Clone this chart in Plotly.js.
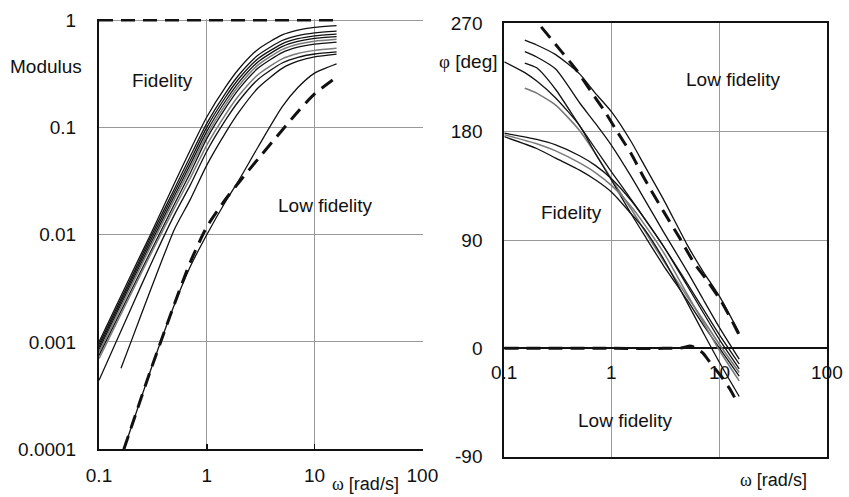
<!DOCTYPE html>
<html>
<head>
<meta charset="utf-8">
<script src="https://cdn.plot.ly/plotly-3.0.1.min.js"></script>
<style>
  html, body { margin: 0; padding: 0; background: #fff; }
  #chart { width: 849px; height: 497px; }
</style>
</head>
<body>
<div id="chart"></div>
<script>
// ---- Modulus (left panel) ----
const wMod = [0.1, 0.2, 0.3, 0.5, 0.7, 1, 1.5, 2, 3, 5, 7, 10, 16];
const wModLate = [0.16, 0.2, 0.3, 0.5, 0.7, 1, 1.5, 2, 3, 5, 7, 10, 16];
const wModLow = [0.17, 0.2, 0.3, 0.5, 0.7, 1, 1.5, 2, 3, 5, 7, 10, 16];
const wModRef = [0.1, 16];

const modA = [0.001, 0.0043, 0.010, 0.030, 0.061, 0.125, 0.24, 0.354, 0.536, 0.728, 0.807, 0.856, 0.888];
const modB = [0.00095, 0.0040, 0.0094, 0.0267, 0.0533, 0.109, 0.21, 0.311, 0.473, 0.645, 0.716, 0.761, 0.79];
const modC = [0.0009, 0.00378, 0.0088, 0.0247, 0.0486, 0.100, 0.193, 0.287, 0.439, 0.601, 0.670, 0.713, 0.741];
const modD = [0.00085, 0.00356, 0.0082, 0.0229, 0.0447, 0.0919, 0.178, 0.266, 0.409, 0.565, 0.632, 0.674, 0.701];
const modE = [0.0008, 0.00334, 0.0077, 0.0213, 0.0412, 0.0848, 0.165, 0.247, 0.382, 0.531, 0.595, 0.635, 0.662];
const modF = [0.00075, 0.00305, 0.0069, 0.0192, 0.0373, 0.0786, 0.153, 0.230, 0.357, 0.498, 0.559, 0.597, 0.623];
const modG = [0.0007, 0.00286, 0.0065, 0.0177, 0.0334, 0.0683, 0.133, 0.200, 0.311, 0.435, 0.488, 0.522, 0.545];
const modH = [0.00044, 0.0021, 0.0052, 0.0153, 0.0288, 0.060, 0.118, 0.178, 0.281, 0.398, 0.450, 0.483, 0.505];
const modI = [0.00057, 0.00103, 0.00303, 0.0112, 0.0211, 0.0445, 0.090, 0.140, 0.234, 0.355, 0.414, 0.454, 0.481];
const modLowSolid = [0.0001, 0.000162, 0.00054, 0.00222, 0.0050, 0.0100, 0.0205, 0.0326, 0.066, 0.155, 0.235, 0.32, 0.39];
const modLowDash = [0.0001, 0.000162, 0.00054, 0.00225, 0.0055, 0.0118, 0.0215, 0.031, 0.051, 0.094, 0.14, 0.205, 0.294];
const modUpperDash = [1, 1];

// ---- Phase (right panel) ----
const wPhA = [0.155, 0.2, 0.3, 0.5, 0.7, 1, 1.5, 2, 3, 5, 7, 10, 15.2];
const wPhB = [0.1, 0.2, 0.3, 0.5, 0.7, 1, 1.5, 2, 3, 5, 7, 10, 15.2];
const wPhC = [0.1, 0.155, 0.2, 0.3, 0.5, 0.7, 1, 1.5, 2, 3, 5, 7, 10, 15.2];
const wPhUpperDash = [0.22, 0.34, 0.47, 0.625, 0.86, 1.1, 1.5, 2, 3, 4.27, 5.7, 7.8, 10.4, 13.9, 15.2];
const wPhLowerDash = [0.1, 1, 3, 4.5, 5.3, 6.0, 7, 8.1, 10.4, 12.5, 14.5];

const phS1 = [256, 252, 244, 228, 212, 196, 172, 152, 124, 86, 64, 43, 13];
const phS2 = [246.5, 242, 232, 204, 187, 168, 143, 124, 97, 64, 41, 17, -9];
const phS3 = [237, 233, 215, 185, 166, 146, 124, 108, 85, 54, 33, 11, -13];
const phS4 = [216, 212, 202, 181, 162, 140, 116, 98, 73, 43, 24, 3, -20];
const phS5 = [238, 229, 222, 208, 185, 162, 139, 112, 94, 69, 40, 20, 0, -23];
const phB1 = [178.7, 173.5, 169, 160, 152, 140.5, 123, 108, 85, 52, 30, 7, -17];
const phB2 = [175.8, 166, 158, 148, 140, 129.5, 112, 99, 74.5, 38, 13.5, -12, -40];
const phB3 = [177.5, 170, 164, 154, 146, 135, 118, 103, 80, 45, 22, -2, -27];
const phUpperDash = [267, 246.5, 231, 214.6, 196.6, 181, 162, 141, 114, 91.4, 72, 55.3, 38.7, 18, 11];
const phLowerDash = [0, 0, 0, 0.5, 2, 0.5, -4, -11.4, -23.6, -34, -44.6];

// tick labels
const modTickVals = [0.0001, 0.001, 0.01, 0.1, 1];
const modTickText = ['0.0001', '0.001', '0.01', '0.1', '1'];
const freqTickVals = [0.1, 1, 10, 100];
const freqTickText = ['0.1', '1', '10', '100'];
const phTickVals = [-90, 0, 90, 180, 270];
const phTickText = ['-90', '0', '90', '180', '270'];

const W = 849, H = 497;
const px = x => x / W;
const py = y => 1 - y / H;

const BLACK = '#111';
const GRAY = '#7a7a7a';
const GRID = '#9a9a9a';
const FONT = 'Liberation Sans, Arial, sans-serif';

function curve(x, y, axes, color, width, dash) {
  return {
    type: 'scatter', mode: 'lines', x: x, y: y,
    xaxis: axes[0], yaxis: axes[1],
    line: { color: color, width: width, dash: dash || 'solid', shape: 'spline', smoothing: 0.6 },
    hoverinfo: 'skip'
  };
}

const L = ['x', 'y'], R = ['x2', 'y2'];
const DASH = '14px,8px';

const data = [
  curve(wModRef, modUpperDash, L, BLACK, 3, DASH),
  curve(wMod, modA, L, BLACK, 1.3),
  curve(wMod, modB, L, BLACK, 1.3),
  curve(wMod, modC, L, BLACK, 1.3),
  curve(wMod, modD, L, BLACK, 1.3),
  curve(wMod, modE, L, GRAY, 1.5),
  curve(wMod, modF, L, BLACK, 1.3),
  curve(wMod, modG, L, GRAY, 1.5),
  curve(wMod, modH, L, BLACK, 1.3),
  curve(wModLate, modI, L, BLACK, 1.3),
  curve(wModLow, modLowSolid, L, BLACK, 1.3),
  curve(wModLow, modLowDash, L, BLACK, 3, DASH),

  curve(wPhLowerDash, phLowerDash, R, BLACK, 3, DASH),
  curve(wPhUpperDash, phUpperDash, R, BLACK, 3, DASH),
  curve(wPhA, phS1, R, BLACK, 1.3),
  curve(wPhA, phS2, R, BLACK, 1.3),
  curve(wPhA, phS3, R, BLACK, 1.3),
  curve(wPhA, phS4, R, GRAY, 1.6),
  curve(wPhC, phS5, R, BLACK, 1.3),
  curve(wPhB, phB1, R, BLACK, 1.3),
  curve(wPhB, phB2, R, BLACK, 1.3),
  curve(wPhB, phB3, R, GRAY, 1.5)
];

function label(text, x, y, opts) {
  return Object.assign({
    text: text, xref: 'paper', yref: 'paper', x: px(x), y: py(y),
    xanchor: 'center', yanchor: 'middle', showarrow: false,
    font: { family: FONT, size: 19, color: BLACK }
  }, opts || {});
}

const omega = '<span style="font-family:Liberation Serif">ω</span> [rad/s]';

const annotations = [
  label('Modulus', 8, 66.5, { xanchor: 'left' }),
  label('<span style="font-family:Liberation Serif">φ</span> [deg]', 437, 61.7, { xanchor: 'left' }),
  label(omega, 330, 484, { xanchor: 'left', font: { family: FONT, size: 18, color: BLACK } }),
  label(omega, 738, 480, { xanchor: 'left', font: { family: FONT, size: 18, color: BLACK } }),
  label('Fidelity', 162.5, 80.8),
  label('Low fidelity', 325, 205.8),
  label('Low fidelity', 732.5, 79.5),
  label('Fidelity', 571.7, 212.5),
  label('Low fidelity', 624.5, 420)
];

// frequency labels of the phase panel sit under the 0 deg line
freqTickVals.forEach((v, i) => {
  annotations.push({
    text: freqTickText[i], xref: 'x2', yref: 'y2', x: Math.log10(v), y: 0,
    xanchor: 'center', yanchor: 'middle', yshift: -24, showarrow: false,
    font: { family: FONT, size: 19, color: BLACK }
  });
});

const layout = {
  width: W, height: H,
  margin: { l: 0, r: 0, t: 0, b: 0 },
  paper_bgcolor: '#fff', plot_bgcolor: 'rgba(0,0,0,0)',
  showlegend: false, hovermode: false,
  font: { family: FONT, size: 19, color: BLACK },
  xaxis: {
    domain: [px(99), px(422.9)], type: 'log', range: [-1, 2.005],
    tickmode: 'array', tickvals: freqTickVals, ticktext: freqTickText,
    showgrid: true, gridcolor: GRID, gridwidth: 1,
    showline: true, linecolor: BLACK, linewidth: 2,
    ticks: 'inside', ticklen: 5, tickcolor: BLACK, tickwidth: 1.5,
    zeroline: false, anchor: 'y', ticklabelstandoff: 8,
    tickfont: { family: FONT, size: 19, color: BLACK }
  },
  yaxis: {
    domain: [py(449.3), py(19.0)], type: 'log', range: [-4, 0.01],
    tickmode: 'array', tickvals: modTickVals, ticktext: modTickText,
    showgrid: true, gridcolor: GRID, gridwidth: 1,
    showline: true, linecolor: BLACK, linewidth: 2,
    ticks: '', zeroline: false, anchor: 'x', ticklabelstandoff: 17,
    tickfont: { family: FONT, size: 19, color: BLACK }
  },
  xaxis2: {
    domain: [px(504.3), px(827.3)], type: 'log', range: [-1, 2],
    tickmode: 'array', tickvals: freqTickVals, showticklabels: false,
    showgrid: true, gridcolor: GRID, gridwidth: 1,
    showline: true, mirror: true, linecolor: BLACK, linewidth: 2,
    ticks: '', zeroline: false, anchor: 'y2'
  },
  yaxis2: {
    domain: [py(456.7), py(23.3)], range: [-90, 270],
    tickmode: 'array', tickvals: phTickVals, ticktext: phTickText,
    showgrid: true, gridcolor: GRID, gridwidth: 1,
    showline: true, mirror: true, linecolor: BLACK, linewidth: 2,
    zeroline: true, zerolinecolor: BLACK, zerolinewidth: 2,
    ticks: '', anchor: 'x2', ticklabelstandoff: 16,
    tickfont: { family: FONT, size: 19, color: BLACK }
  },
  annotations: annotations
};

Plotly.newPlot('chart', data, layout, { staticPlot: true, displayModeBar: false });
</script>
</body>
</html>
